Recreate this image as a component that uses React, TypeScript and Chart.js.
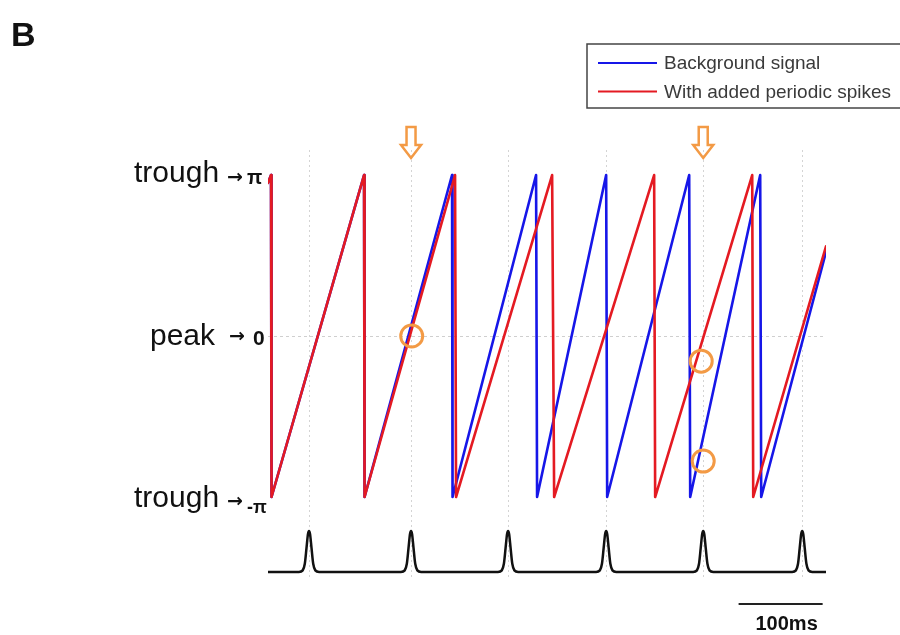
import React, { useEffect, useRef } from 'react';
import { Chart, registerables } from 'chart.js';

Chart.register(...registerables);

const PI = Math.PI;

// Phase traces (time in ms, phase in radians)
const blueTimes = [0, 3.6, 4.2, 114.3, 114.9, 219.0, 219.6, 319.0, 320.2, 402.4, 403.6, 501.2, 502.4, 585.7, 586.9, 664];
const bluePhases = [2.99, PI, -PI, PI, -PI, PI, -PI, PI, -PI, PI, -PI, PI, -PI, PI, -PI, 1.64];
const redTimes = [0, 3.6, 4.2, 114.3, 114.9, 222.6, 223.8, 338.1, 340.5, 459.5, 460.7, 576.2, 577.4, 664];
const redPhases = [2.99, PI, -PI, PI, -PI, PI, -PI, PI, -PI, PI, -PI, PI, -PI, 1.75];

// Periodic spikes
const spikeTimes = [48.8, 170.2, 285.7, 402.4, 517.9, 635.7];
const spikeOffsets = [-12, -7.5, -5, -3, -1.2, 0, 1.2, 3, 5, 7.5, 12];
const spikeShape = [0, 0.04, 0.2, 0.58, 0.93, 1, 0.93, 0.58, 0.2, 0.04, 0];

// Orange circle marks
const markTimes = [171.0, 515.5, 517.9];
const markPhases = [0, -0.49, -2.44];
const arrowSpikeIdx = [1, 4];

const phaseTickValues = [PI, 0, -PI];
const TIME_MAX = 664;
const SCALE_BAR_MS = 100;
const SCALE_BAR_END = 660;

// vertical placement of the spike trace on the shared y scale
const SPIKE_BASE = -4.605;
const SPIKE_AMP = 0.8;
const Y_MIN = -4.722;
const Y_MAX = 3.63;

const BLUE = '#1616e8';
const RED = '#e41a22';
const ORANGE = '#f39a45';
const SANS = '"Liberation Sans", Arial, sans-serif';

function buildSpikeTrace() {
  const pts: { x: number; y: number }[] = [{ x: 0, y: SPIKE_BASE }];
  spikeTimes.forEach((t) => {
    spikeOffsets.forEach((o, i) => {
      pts.push({ x: t + o, y: SPIKE_BASE + SPIKE_AMP * spikeShape[i] });
    });
  });
  pts.push({ x: TIME_MAX, y: SPIKE_BASE });
  return pts;
}

const decorPlugin = {
  id: 'decor',
  afterDraw(chart: any) {
    const ctx = chart.ctx as CanvasRenderingContext2D;
    const xs = chart.scales.x;
    const ys = chart.scales.y;
    ctx.save();

    // Panel letter
    ctx.fillStyle = '#111';
    ctx.font = `bold 34px ${SANS}`;
    ctx.textBaseline = 'alphabetic';
    ctx.textAlign = 'left';
    ctx.fillText('B', 11, 46);

    // Phase labels
    const yTop = ys.getPixelForValue(phaseTickValues[0]);
    const yMid = ys.getPixelForValue(phaseTickValues[1]);
    const yBot = ys.getPixelForValue(phaseTickValues[2]);
    ctx.fillStyle = '#111';
    ctx.font = `30px ${SANS}`;
    ctx.fillText('trough', 134, yTop + 7);
    ctx.fillText('peak', 150, yMid + 9);
    ctx.fillText('trough', 134, yBot + 10);
    ctx.font = `bold 19px "DejaVu Sans", sans-serif`;
    ctx.textBaseline = 'middle';
    ctx.fillText('→', 227, yTop + 3);
    ctx.fillText('→', 229, yMid + 1);
    ctx.fillText('→', 227, yBot + 5);
    ctx.textBaseline = 'alphabetic';
    ctx.font = `bold 20px ${SANS}`;
    ctx.fillText('π', 247, yTop + 9);
    ctx.font = `bold 21px ${SANS}`;
    ctx.fillText('0', 253, yMid + 9);
    ctx.font = `bold 18px ${SANS}`;
    ctx.fillText('-π', 247, yBot + 16);

    // Orange down arrows above selected spikes
    ctx.strokeStyle = ORANGE;
    ctx.lineWidth = 2.5;
    ctx.lineJoin = 'miter';
    arrowSpikeIdx.forEach((i) => {
      const cx = xs.getPixelForValue(spikeTimes[i]);
      const top = 127;
      ctx.beginPath();
      ctx.moveTo(cx - 4.5, top);
      ctx.lineTo(cx + 4.5, top);
      ctx.lineTo(cx + 4.5, top + 18);
      ctx.lineTo(cx + 10, top + 18);
      ctx.lineTo(cx, top + 31);
      ctx.lineTo(cx - 10, top + 18);
      ctx.lineTo(cx - 4.5, top + 18);
      ctx.closePath();
      ctx.stroke();
    });

    // Legend box
    const ds = chart.data.datasets;
    const legendItems = [ds[2], ds[1]];
    ctx.strokeStyle = '#444';
    ctx.lineWidth = 1.5;
    ctx.strokeRect(587, 44, 330, 64);
    ctx.font = `19px ${SANS}`;
    ctx.textBaseline = 'middle';
    legendItems.forEach((d: any, i: number) => {
      const y = 63 + i * 28.5;
      ctx.strokeStyle = d.borderColor;
      ctx.lineWidth = 2;
      ctx.beginPath();
      ctx.moveTo(598, y);
      ctx.lineTo(657, y);
      ctx.stroke();
      ctx.fillStyle = '#3a3a3a';
      ctx.fillText(d.label, 664, y + 1);
    });

    // Scale bar
    const x1 = xs.getPixelForValue(SCALE_BAR_END - SCALE_BAR_MS);
    const x2 = xs.getPixelForValue(SCALE_BAR_END);
    ctx.strokeStyle = '#222';
    ctx.lineWidth = 2;
    ctx.beginPath();
    ctx.moveTo(x1, 604);
    ctx.lineTo(x2, 604);
    ctx.stroke();
    ctx.fillStyle = '#111';
    ctx.font = `bold 20px ${SANS}`;
    ctx.textAlign = 'center';
    ctx.textBaseline = 'alphabetic';
    ctx.fillText(`${SCALE_BAR_MS}ms`, (x1 + x2) / 2 + 6, 630);

    ctx.restore();
  },
};

export default function App() {
  const canvasRef = useRef<HTMLCanvasElement | null>(null);

  useEffect(() => {
    if (!canvasRef.current) return;
    const chart = new Chart(canvasRef.current, {
      type: 'line',
      data: {
        datasets: [
          {
            type: 'scatter',
            label: 'marks',
            data: markTimes.map((t, i) => ({ x: t, y: markPhases[i] })),
            showLine: false,
            pointRadius: 11,
            pointBorderWidth: 3,
            pointBorderColor: ORANGE,
            pointBackgroundColor: 'rgba(0,0,0,0)',
            borderColor: ORANGE,
            backgroundColor: 'rgba(0,0,0,0)',
          } as any,
          {
            label: 'With added periodic spikes',
            data: redTimes.map((t, i) => ({ x: t, y: redPhases[i] })),
            borderColor: RED,
            borderWidth: 2.6,
            borderJoinStyle: 'round',
            borderCapStyle: 'round',
            pointRadius: 0,
            tension: 0,
          },
          {
            label: 'Background signal',
            data: blueTimes.map((t, i) => ({ x: t, y: bluePhases[i] })),
            borderColor: BLUE,
            borderWidth: 2.6,
            borderJoinStyle: 'round',
            borderCapStyle: 'round',
            pointRadius: 0,
            tension: 0,
          },
          {
            label: 'spikes',
            data: buildSpikeTrace(),
            borderColor: '#111',
            borderWidth: 2.5,
            borderJoinStyle: 'round',
            pointRadius: 0,
            cubicInterpolationMode: 'monotone',
          },
        ],
      },
      options: {
        animation: false,
        responsive: false,
        events: [],
        layout: { padding: { left: 268, right: 74, top: 150, bottom: 57 } },
        plugins: {
          legend: { display: false },
          tooltip: { enabled: false },
        },
        scales: {
          x: {
            type: 'linear',
            min: 0,
            max: TIME_MAX,
            afterBuildTicks: (s: any) => {
              s.ticks = spikeTimes.map((v) => ({ value: v }));
            },
            ticks: { display: false },
            grid: { color: '#d4d4d4', lineWidth: 1, drawTicks: false },
            border: { display: false, dash: [2, 3] },
          },
          y: {
            type: 'linear',
            min: Y_MIN,
            max: Y_MAX,
            afterBuildTicks: (s: any) => {
              s.ticks = [{ value: 0 }];
            },
            ticks: { display: false },
            grid: { color: '#cfcfcf', lineWidth: 1, drawTicks: false },
            border: { display: false, dash: [3, 3] },
          },
        },
      },
      plugins: [decorPlugin],
    } as any);
    return () => chart.destroy();
  }, []);

  return (
    <div style={{ position: 'absolute', left: 0, top: 0, width: 900, height: 635, background: '#fff' }}>
      <canvas ref={canvasRef} width={900} height={635} style={{ display: 'block' }} />
    </div>
  );
}
